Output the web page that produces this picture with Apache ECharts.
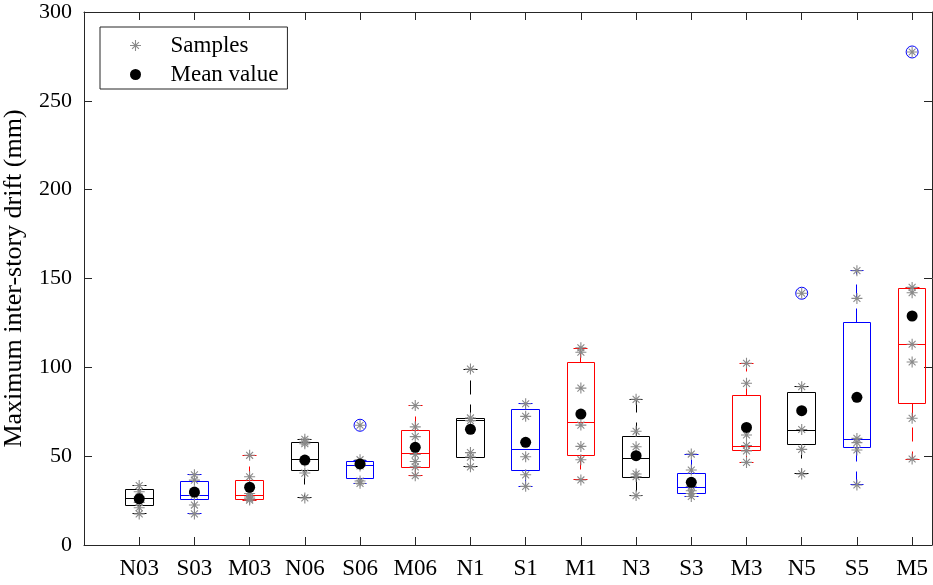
<!DOCTYPE html>
<html><head><meta charset="utf-8">
<script src="https://cdn.jsdelivr.net/npm/echarts@6/dist/echarts.min.js"></script>
<style>html,body{margin:0;padding:0;background:#fff}#c{width:933px;height:585px}</style>
</head><body><div id="c"></div>
<script>
// ---------------- data ----------------
const categories = ['N03','S03','M03','N06','S06','M06','N1','S1','M1','N3','S3','M3','N5','S5','M5'];
const lowerWhisker = [17.5, 17.5, 25.3, 26.5, 34.7, 39.0, 44.0, 33.0, 36.6, 27.8, 27.3, 46.5, 40.0, 33.8, 48.4];
const q1           = [22.0, 25.7, 25.7, 42.2, 37.5, 43.7, 49.4, 42.2, 50.1, 38.1, 29.1, 53.1, 56.8, 55.0, 79.4];
const median       = [26.0, 28.0, 28.0, 48.4, 45.0, 51.4, 70.0, 53.5, 69.0, 48.6, 32.1, 55.3, 64.7, 59.5, 112.6];
const q3           = [31.5, 35.8, 36.2, 57.6, 46.9, 64.7, 71.3, 76.0, 102.8, 61.0, 40.3, 83.9, 85.7, 125.1, 144.3];
const upperWhisker = [33.5, 39.5, 50.5, 59.5, 47.5, 78.5, 99.0, 79.5, 110.7, 82.0, 51.2, 102.3, 89.1, 154.4, 144.8];
const meanValues   = [26.0, 29.8, 32.5, 47.8, 45.6, 55.0, 65.1, 57.8, 73.7, 50.3, 35.3, 66.2, 75.6, 83.1, 128.9];
const samples = [
  [17.5, 21, 24, 27, 30, 33.5],
  [17.5, 22.5, 28, 29, 36.5, 39.5],
  [25.3, 26, 27, 29, 38.4, 50.5],
  [26.5, 40.5, 47, 57, 58, 59.5],
  [34.7, 36, 44.5, 45.5, 48, 67.4],
  [39, 44, 47, 51, 61, 66.5, 78.5],
  [44, 49.5, 52, 70, 71.5, 99],
  [33, 39.5, 49.7, 72.4, 79.5],
  [36.6, 48, 55.5, 67.5, 88.3, 108.5, 111],
  [27.8, 38.5, 40, 55.3, 64, 82],
  [27.3, 29, 30.5, 33, 42.2, 51.2],
  [46.5, 53, 56, 61.9, 91, 102.3],
  [40, 53.8, 65, 89.1, 141.7],
  [33.8, 53.5, 57.6, 60, 138.8, 154.4],
  [48.4, 71.3, 103, 113, 142, 145, 277.5]
];
const outlierCategory = ['S06', 'N5', 'M5'];
const outlierValue    = [67.4, 141.7, 277.5];
const yTicks = [0, 50, 100, 150, 200, 250, 300];

// ---------------- build ----------------
const FONT = "'Liberation Serif','Times New Roman',serif";
const AX = '#262626';
const boxColors = ['#000000', '#0000ff', '#ff0000'];
const xPositions = categories.map((_, i) => i + 1);

const boxData = categories.map((c, i) => [i + 1, lowerWhisker[i], q1[i], median[i], q3[i], upperWhisker[i]]);
const sampleData = [];
samples.forEach((arr, i) => arr.forEach(v => sampleData.push([i + 1, v])));
const meanData = meanValues.map((v, i) => [i + 1, v]);
const outlierData = outlierCategory.map((c, k) => [categories.indexOf(c) + 1, outlierValue[k]]);

const ASTERISK = 'path://M4.5,0h1v10h-1z M0,4.5h10v1h-10z M2.2,1.5L8.5,7.8L7.8,8.5L1.5,2.2z M7.8,1.5L8.5,2.2L2.2,8.5L1.5,7.8z';

function crisp(v) { return Math.round(v - 0.5) + 0.5; }

function renderBox(params, api) {
  const i = params.dataIndex;
  const x = api.value(0);
  const col = boxColors[i % 3];
  const cx = api.coord([x, 0])[0];
  const bw = api.size([0.5, 0])[0];
  const cw = api.size([0.25, 0])[0];
  const py = k => crisp(api.coord([x, api.value(k)])[1]);
  const yLw = py(1), yQ1 = py(2), yMed = py(3), yQ3 = py(4), yUw = py(5);
  const xl = crisp(cx - bw / 2), xr = crisp(cx + bw / 2), xc = crisp(cx);
  const cl = crisp(cx - cw / 2), cr = crisp(cx + cw / 2);
  const solid = { stroke: col, lineWidth: 1, fill: null };
  const dashed = { stroke: col, lineWidth: 1, lineDash: [14, 10], fill: null };
  return {
    type: 'group',
    children: [
      { type: 'line', shape: { x1: xc, y1: yQ3, x2: xc, y2: yUw }, style: dashed },
      { type: 'line', shape: { x1: xc, y1: yQ1, x2: xc, y2: yLw }, style: dashed },
      { type: 'line', shape: { x1: cl, y1: yUw, x2: cr, y2: yUw }, style: solid },
      { type: 'line', shape: { x1: cl, y1: yLw, x2: cr, y2: yLw }, style: solid },
      { type: 'rect', shape: { x: xl, y: yQ3, width: xr - xl, height: yQ1 - yQ3 }, style: solid },
      { type: 'line', shape: { x1: xl, y1: yMed, x2: xr, y2: yMed }, style: solid }
    ]
  };
}

const chart = echarts.init(document.getElementById('c'), null, { renderer: 'canvas' });
const axisLineStyle = { color: AX, width: 1 };
chart.setOption({
  animation: false,
  backgroundColor: '#ffffff',
  grid: { left: 84, right: 1, top: 12, bottom: 40, containLabel: false, outerBoundsMode: 'none' },
  legend: {
    data: ['Samples', 'Mean value'],
    orient: 'vertical', left: 100, top: 27,
    itemWidth: 30, itemHeight: 11, itemGap: 6,
    padding: [7, 9, 3, 30],
    borderColor: AX, borderWidth: 1, backgroundColor: '#ffffff',
    selectedMode: false,
    textStyle: { fontFamily: FONT, fontSize: 23, color: '#000', padding: [0, 0, 0, 15] }
  },
  xAxis: [{
    type: 'value', min: 0, max: 15.36, interval: 1,
    axisLine: { show: true, onZero: false, lineStyle: axisLineStyle },
    axisTick: { show: true, inside: true, length: 8, lineStyle: axisLineStyle, customValues: xPositions },
    axisLabel: { show: true, margin: 12, fontFamily: FONT, fontSize: 23, color: '#000',
      customValues: xPositions,
      formatter: v => categories[Math.round(v) - 1] || '' },
    splitLine: { show: false }
  }, {
    type: 'value', position: 'top', min: 0, max: 15.36, interval: 1,
    axisLine: { show: true, onZero: false, lineStyle: axisLineStyle },
    axisTick: { show: true, inside: true, length: 8, lineStyle: axisLineStyle, customValues: xPositions },
    axisLabel: { show: false },
    splitLine: { show: false }
  }],
  yAxis: [{
    type: 'value', min: yTicks[0], max: yTicks[yTicks.length - 1], interval: 50,
    name: 'Maximum inter-story drift (mm)', nameLocation: 'middle', nameGap: 57,
    nameTextStyle: { fontFamily: FONT, fontSize: 26, color: '#000' },
    axisLine: { show: true, onZero: false, lineStyle: axisLineStyle },
    axisTick: { show: true, inside: true, length: 8, lineStyle: axisLineStyle },
    axisLabel: { margin: 12, fontFamily: FONT, fontSize: 22, color: '#000' },
    splitLine: { show: false }
  }, {
    type: 'value', position: 'right', min: yTicks[0], max: yTicks[yTicks.length - 1], interval: 50,
    axisLine: { show: true, onZero: false, lineStyle: axisLineStyle },
    axisTick: { show: true, inside: true, length: 8, lineStyle: axisLineStyle },
    axisLabel: { show: false },
    splitLine: { show: false }
  }],
  series: [
    { type: 'custom', name: 'boxes', data: boxData, renderItem: renderBox,
      encode: { x: 0, y: [1, 2, 3, 4, 5] }, z: 2, silent: true },
    { type: 'scatter', name: 'Outliers', data: outlierData, symbol: 'circle', symbolSize: 12,
      itemStyle: { color: 'rgba(0,0,0,0)', borderColor: '#0000ff', borderWidth: 1, opacity: 1 }, z: 3, silent: true },
    { type: 'scatter', name: 'Samples', data: sampleData, symbol: ASTERISK, symbolSize: 11,
      itemStyle: { color: '#8a8a8a', opacity: 1 }, z: 4, silent: true },
    { type: 'scatter', name: 'Mean value', data: meanData, symbol: 'circle', symbolSize: 11,
      itemStyle: { color: '#000000', opacity: 1 }, z: 5, silent: true }
  ]
});
</script>
</body></html>
